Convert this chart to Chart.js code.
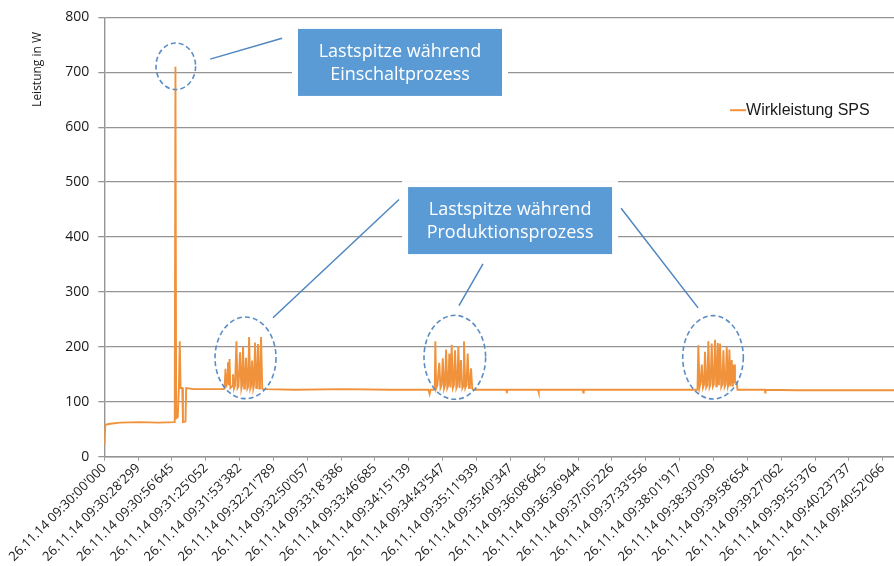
<!DOCTYPE html>
<html>
<head>
<meta charset="utf-8">
<script src="https://cdn.jsdelivr.net/npm/chart.js@4"></script>
<style>
  html, body { margin: 0; padding: 0; background: #fff; }
  .lineChart { position: relative; width: 894px; height: 566px; }
</style>
</head>
<body>
<div class="lineChart"><canvas></canvas></div>
<script>
// x axis: seconds since 26.11.14 09:30:00'000
const tickSeconds = [0, 28.299, 56.645, 85.052, 113.382, 141.789, 170.057, 198.386, 226.685, 255.139,
  283.547, 311.939, 340.347, 368.645, 396.944, 425.226, 453.556, 481.917, 510.309, 538.654,
  567.062, 595.376, 623.737, 652.066];
const tickLabels = [
  "26.11.14 09:30:00'000", "26.11.14 09:30:28'299", "26.11.14 09:30:56'645", "26.11.14 09:31:25'052",
  "26.11.14 09:31:53'382", "26.11.14 09:32:21'789", "26.11.14 09:32:50'057", "26.11.14 09:33:18'386",
  "26.11.14 09:33:46'685", "26.11.14 09:34:15'139", "26.11.14 09:34:43'547", "26.11.14 09:35:11'939",
  "26.11.14 09:35:40'347", "26.11.14 09:36:08'645", "26.11.14 09:36:36'944", "26.11.14 09:37:05'226",
  "26.11.14 09:37:33'556", "26.11.14 09:38:01'917", "26.11.14 09:38:30'309", "26.11.14 09:39:58'654",
  "26.11.14 09:39:27'062", "26.11.14 09:39:55'376", "26.11.14 09:40:23'737", "26.11.14 09:40:52'066"
];

// Wirkleistung SPS, in pieces (time in s, power in W)
const startT = [0, 0.8, 5, 13.2, 30, 45, 59.0, 59.6, 60.2, 61.5, 62.5, 63.2, 63.9, 65.3, 65.9, 68.0, 68.6, 75, 100];
const startW = [22, 58, 60, 62, 63, 62, 63, 710, 70, 72, 125, 210, 125, 125, 63, 64, 125, 123, 123];

const burst1T = [100.8, 101.5, 102.2, 103.0, 103.6, 104.2, 104.9, 105.6, 107.0, 107.8, 108.6, 109.5, 110.7, 111.6,
  112.4, 113.7, 114.8, 115.4, 116.2, 117.2, 117.8, 118.7, 119.8, 120.4, 121.3, 122.3, 122.9, 123.8, 124.8,
  125.4, 126.3, 127.3, 127.9, 128.8, 129.8, 130.4, 131.3, 132.3, 133.0];
const burst1W = [124, 160, 126, 150, 172, 130, 178, 125, 128, 150, 124, 130, 210, 125,
  128, 190, 124, 130, 200, 124, 128, 180, 124, 127, 218, 124, 128, 175, 124,
  130, 208, 125, 128, 205, 124, 128, 218, 124, 123];

const idle1T = [160, 200, 240, 271.5, 272.5, 273.3];
const idle1W = [122, 123, 122, 122, 114, 122];

const burst2T = [276.8, 277.3, 278.0, 279.0, 280.6, 281.6, 282.6, 283.5, 284.6, 285.4, 286.3, 287.3, 288.2, 289.0,
  290.0, 291.0, 292.0, 292.8, 293.8, 294.9, 295.7, 296.6, 297.6, 298.8, 299.9, 300.5, 301.3, 302.4, 303.4,
  304.4, 305.5, 306.2, 307.2, 308.2, 309.0];
const burst2W = [122, 210, 124, 130, 171, 125, 130, 179, 124, 130, 195, 125, 130, 188,
  126, 204, 125, 130, 194, 125, 130, 201, 125, 176, 125, 128, 210, 125, 130,
  188, 125, 128, 161, 124, 122];

const idle2T = [330, 336.8, 337.2, 337.6, 363.3, 363.7, 364.1, 400.8, 401.2, 401.6, 450, 496.9];
const idle2W = [122, 122, 116, 122, 122, 117, 122, 122, 117, 122, 122, 122];

const burst3T = [497.6, 498.6, 499.5, 500.5, 501.5, 502.4, 503.2, 504.2, 505.1, 506.0, 507.0, 507.8, 508.8, 509.8,
  510.6, 511.6, 512.6, 513.1, 513.9, 514.8, 515.8, 516.8, 517.7, 518.6, 519.6, 520.5, 521.4, 522.4, 523.0,
  523.6, 524.6, 525.6, 526.5, 527.5, 528.3, 529.8, 530.4];
const burst3W = [203, 126, 135, 168, 126, 132, 191, 126, 130, 210, 127, 132, 206, 128,
  132, 213, 128, 132, 207, 130, 206, 127, 132, 194, 127, 132, 200, 128, 132,
  195, 128, 176, 128, 168, 135, 135, 122];

const idle3T = [553.3, 553.6, 553.9, 580, 620, 661.5];
const idle3W = [122, 117, 122, 121, 121, 121];

const seriesT = [].concat(startT, burst1T, idle1T, burst2T, idle2T, burst3T, idle3T);
const seriesW = [].concat(startW, burst1W, idle1W, burst2W, idle2W, burst3W, idle3W);

const orange = "#F0923B";
const blue = "#5B9BD5";
const dashBlue = "#5A8DC4";

// annotation anchors in data units [s, W]
const callouts = [
  { at: [247.7, 718], lines: ["Lastspitze während", "Einschaltprozess"] },
  { at: [339.9, 430], lines: ["Lastspitze während", "Produktionsprozess"] }
];
const pointers = [
  [[88.7, 724], [148.9, 762]],
  [[141.3, 253], [246.9, 468.5]],
  [[297.1, 275], [317.2, 351]],
  [[497.4, 271], [432.9, 452.5]]
];
const rings = [
  { at: [59.9, 711], rx: 19.8, ry: 23.3 },
  { at: [118.3, 180], rx: 30.5, ry: 40.8 },
  { at: [293.6, 181], rx: 30.8, ry: 42 },
  { at: [509.9, 181], rx: 30.3, ry: 41.7 }
];
const legendAt = [524.2, 631];

const notes = {
  id: "notes",
  afterDatasetsDraw(chart) {
    const { ctx, scales: { x, y }, chartArea } = chart;
    const px = p => [x.getPixelForValue(p[0]), y.getPixelForValue(p[1])];
    ctx.save();

    // dashed rings
    ctx.strokeStyle = dashBlue;
    ctx.lineWidth = 1.6;
    ctx.setLineDash([5, 3]);
    rings.forEach(r => {
      const [cx, cy] = px(r.at);
      ctx.beginPath();
      ctx.ellipse(cx, cy, r.rx, r.ry, 0, 0, Math.PI * 2);
      ctx.stroke();
    });
    ctx.setLineDash([]);

    // pointer lines
    ctx.strokeStyle = "#4F86C0";
    ctx.lineWidth = 1.5;
    pointers.forEach(seg => {
      const a = px(seg[0]), b = px(seg[1]);
      ctx.beginPath();
      ctx.moveTo(a[0], a[1]);
      ctx.lineTo(b[0], b[1]);
      ctx.stroke();
    });

    // callout boxes
    const w = 204, h = 67;
    callouts.forEach(c => {
      const [cx, cy] = px(c.at);
      ctx.fillStyle = "#fff";
      ctx.fillRect(cx - w / 2 - 6, cy - h / 2 - 6, w + 12, h + 12);
      ctx.fillStyle = blue;
      ctx.fillRect(cx - w / 2, cy - h / 2, w, h);
      ctx.fillStyle = "#fff";
      ctx.font = '18px "Open Sans"';
      ctx.textAlign = "center";
      ctx.textBaseline = "middle";
      ctx.fillText(c.lines[0], cx, cy - 10.5);
      ctx.fillText(c.lines[1], cx, cy + 12);
    });

    // legend
    const [lx, ly] = px(legendAt);
    ctx.strokeStyle = orange;
    ctx.lineWidth = 2;
    ctx.beginPath();
    ctx.moveTo(lx, ly);
    ctx.lineTo(lx + 16, ly);
    ctx.stroke();
    ctx.fillStyle = "#1a1a1a";
    ctx.font = '16px "Liberation Sans"';
    ctx.textAlign = "left";
    ctx.textBaseline = "middle";
    ctx.fillText("Wirkleistung SPS", lx + 16, ly + 0.5);

    // y axis title
    ctx.translate(chartArea.left - 67, chartArea.top + 52);
    ctx.rotate(-Math.PI / 2);
    ctx.font = '12px "Open Sans"';
    ctx.textAlign = "center";
    ctx.fillText("Leistung in W", 0, 0);
    ctx.restore();
  }
};

const ctx = document.querySelector(".lineChart canvas");

new Chart(ctx, {
  type: "line",
  data: {
    datasets: [
      {
        label: "Wirkleistung SPS",
        data: seriesT.map((t, i) => ({ x: t, y: seriesW[i] })),
        borderColor: orange,
        backgroundColor: orange,
        borderWidth: 1.9,
        pointRadius: 0,
        tension: 0
      }
    ]
  },
  options: {
    responsive: true,
    maintainAspectRatio: false,
    animation: false,
    layout: { padding: { top: 15, right: 0, bottom: 0, left: 0 } },
    plugins: {
      legend: { display: false },
      tooltip: { enabled: false }
    },
    scales: {
      x: {
        type: "linear",
        min: 0,
        max: 661.5,
        afterFit: s => { s.height = 109.3; },
        afterBuildTicks: s => { s.ticks = tickSeconds.map(v => ({ value: v })); },
        grid: { drawOnChartArea: false, drawTicks: true, tickLength: 4, color: "#9a9a9a", lineWidth: 1 },
        border: { display: true, color: "#959595", width: 1.4 },
        ticks: {
          autoSkip: false,
          minRotation: 45,
          maxRotation: 45,
          padding: 0,
          color: "#1a1a1a",
          font: { family: "Open Sans", size: 13 },
          callback: (v, i) => tickLabels[i]
        }
      },
      y: {
        min: 0,
        max: 800,
        afterFit: s => { s.width = 104.3; },
        grid: { color: "#959595", lineWidth: 1.3, tickLength: 6 },
        border: { display: true, color: "#959595", width: 1.4 },
        ticks: {
          stepSize: 100,
          padding: 9,
          color: "#1a1a1a",
          font: { family: "Open Sans", size: 14 }
        }
      }
    }
  },
  plugins: [notes]
});
</script>
</body>
</html>
